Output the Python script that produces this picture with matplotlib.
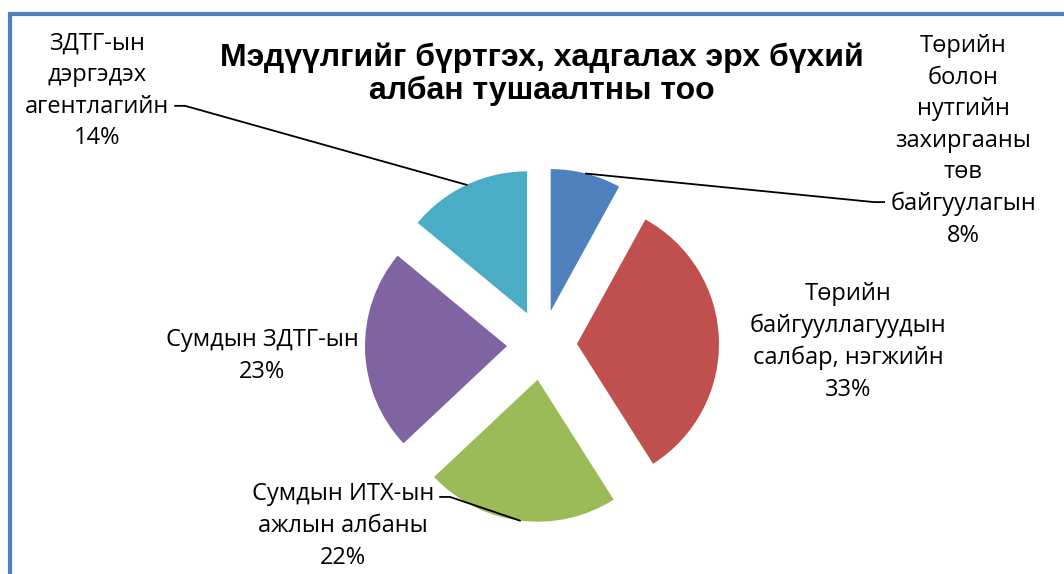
import numpy as np
import matplotlib.pyplot as plt
from matplotlib.patches import Rectangle

W, H = 1064, 574

title = "Мэдүүлгийг бүртгэх, хадгалах эрх бүхий\nалбан тушаалтны тоо"
labels = [
    "Төрийн\nболон\nнутгийн\nзахиргааны\nтөв\nбайгуулагын",
    "Төрийн\nбайгууллагуудын\nсалбар, нэгжийн",
    "Сумдын ИТХ-ын\nажлын албаны",
    "Сумдын ЗДТГ-ын",
    "ЗДТГ-ын\nдэргэдэх\nагентлагийн",
]
values = [8, 33, 22, 23, 14]
colors = ["#4F81BD", "#C0504D", "#9BBB59", "#8064A2", "#4BACC6"]

# label centre (image px) and which text line the leader line starts from
label_pos = [(963, 141), (848, 342), (343, 526), (262, 356), (97, 91)]
leader_line = [5, None, 0, None, 2]

fig = plt.figure(figsize=(W / 100, H / 100), dpi=100)
ax = fig.add_axes([0, 0, 1, 1])

# chart frame (only top/left visible)
ax.add_patch(Rectangle((10, -20), W + 40, H - 14 + 20, fill=False,
                       edgecolor="#4F81BD", lw=3))

wedges, _ = ax.pie(values, colors=colors, startangle=90, counterclock=False,
                   explode=[35] * 5, radius=142, center=(542, H - 345),
                   frame=True)
ax.set_xlim(0, W)
ax.set_ylim(0, H)
ax.set_aspect("equal")
ax.axis("off")

fam = ["Open Sans", "DejaVu Sans"]
fs = 17
ls = 1.42
lab_font = dict(family=fam, fontsize=fs, linespacing=ls, ha="center",
                va="center", color="black")

fig.canvas.draw()
inv = ax.transData.inverted()
for w, lab, v, (lx, ly), li in zip(wedges, labels, values, label_pos,
                                   leader_line):
    full = f"{lab}\n{v}%"
    txt = ax.text(lx, H - ly, full, **lab_font)
    if li is None:
        continue
    mid = np.deg2rad((w.theta1 + w.theta2) / 2)
    cx, cy = w.center
    px, py = cx + w.r * np.cos(mid), cy + w.r * np.sin(mid)
    fig.canvas.draw()
    bb = txt.get_window_extent().transformed(inv)
    lines = full.split("\n")
    lh = (bb.y1 - bb.y0) / len(lines)
    ty = bb.y1 - lh * (li + 0.5)
    tmp = ax.text(lx, ty, lines[li], family=fam, fontsize=fs,
                  ha="center", va="center")
    fig.canvas.draw()
    b2 = tmp.get_window_extent().transformed(inv)
    tmp.remove()
    if px > lx:
        x0 = b2.x1 + 6
        ax.plot([x0, x0 + 10, px], [ty, ty, py], color="black", lw=1.3)
    else:
        x0 = b2.x0 - 6
        ax.plot([x0, x0 - 10, px], [ty, ty, py], color="black", lw=1.3)

ax.text(542, H - 74, title, family=["Liberation Sans", "DejaVu Sans"],
        fontsize=23, fontweight="bold", ha="center", va="center",
        linespacing=1.1)

fig.savefig("out.png", dpi=100, facecolor="white")
